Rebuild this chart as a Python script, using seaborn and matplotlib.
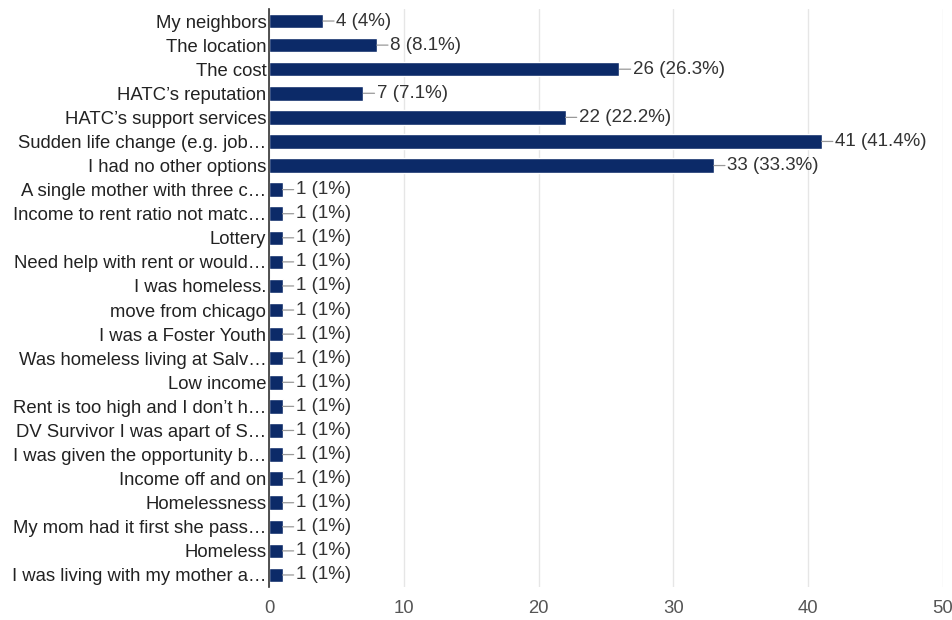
import matplotlib
matplotlib.use("Agg")
import matplotlib.pyplot as plt
import seaborn as sns
import pandas as pd

categories = [
    "My neighbors", "The location", "The cost", "HATC\u2019s reputation",
    "HATC\u2019s support services", "Sudden life change (e.g. job\u2026",
    "I had no other options", "A single mother with three c\u2026",
    "Income to rent ratio not matc\u2026", "Lottery", "Need help with rent or would\u2026",
    "I was homeless.", "move from chicago", "I was a Foster Youth",
    "Was homeless living at Salv\u2026", "Low income", "Rent is too high and I don\u2019t h\u2026",
    "DV Survivor I was apart of S\u2026", "I was given the opportunity b\u2026",
    "Income off and on", "Homelessness", "My mom had it first she pass\u2026",
    "Homeless", "I was living with my mother a\u2026",
]
counts = [4, 8, 26, 7, 22, 41, 33] + [1] * 17
percents = ["4%", "8.1%", "26.3%", "7.1%", "22.2%", "41.4%", "33.3%"] + ["1%"] * 17
xticks = [0, 10, 20, 30, 40, 50]

df = pd.DataFrame({"cat": categories, "count": counts})

sns.set_theme(style="white")
plt.rcParams["font.family"] = ["Liberation Sans", "DejaVu Sans"]

fig = plt.figure(figsize=(9.53, 6.2), dpi=100)
ax = fig.add_axes([0.2823, 0.0532, 0.9895 - 0.2823, 0.9855 - 0.0532])

sns.barplot(data=df, y="cat", x="count", orient="h", color="#0c2a68",
            saturation=1, width=0.6, ax=ax, zorder=3)

ax.set_xlim(0, 50)
ax.set_ylim(len(categories) - 0.5, -0.5)
ax.set_xticks(xticks)
ax.set_xticklabels([str(t) for t in xticks], fontsize=13.3, color="#555555")
ax.tick_params(axis="x", length=0, pad=9)
ax.tick_params(axis="y", length=0, pad=2)
for lbl in ax.get_yticklabels():
    lbl.set_fontsize(13.3)
    lbl.set_color("#222222")
ax.set_xlabel("")
ax.set_ylabel("")
ax.grid(axis="x", color="#e6e6e6", linewidth=1, zorder=0)
for s in ["top", "right", "bottom"]:
    ax.spines[s].set_visible(False)
ax.spines["left"].set_color("#333333")
ax.spines["left"].set_linewidth(1.2)
ax.spines["left"].set_zorder(5)

for i, (c, p) in enumerate(zip(counts, percents)):
    ax.annotate("", xy=(c, i), xycoords="data", xytext=(8, 0),
                textcoords="offset points", arrowprops=dict(arrowstyle="-", color="#999999", lw=0.9,
                                                             shrinkA=0, shrinkB=0))
    ax.annotate(f"{c} ({p})", xy=(c, i), xytext=(9.5, 0), textcoords="offset points",
                va="center", ha="left", fontsize=13.5, color="#333333")

fig.savefig("out.png", dpi=100, facecolor="white")
